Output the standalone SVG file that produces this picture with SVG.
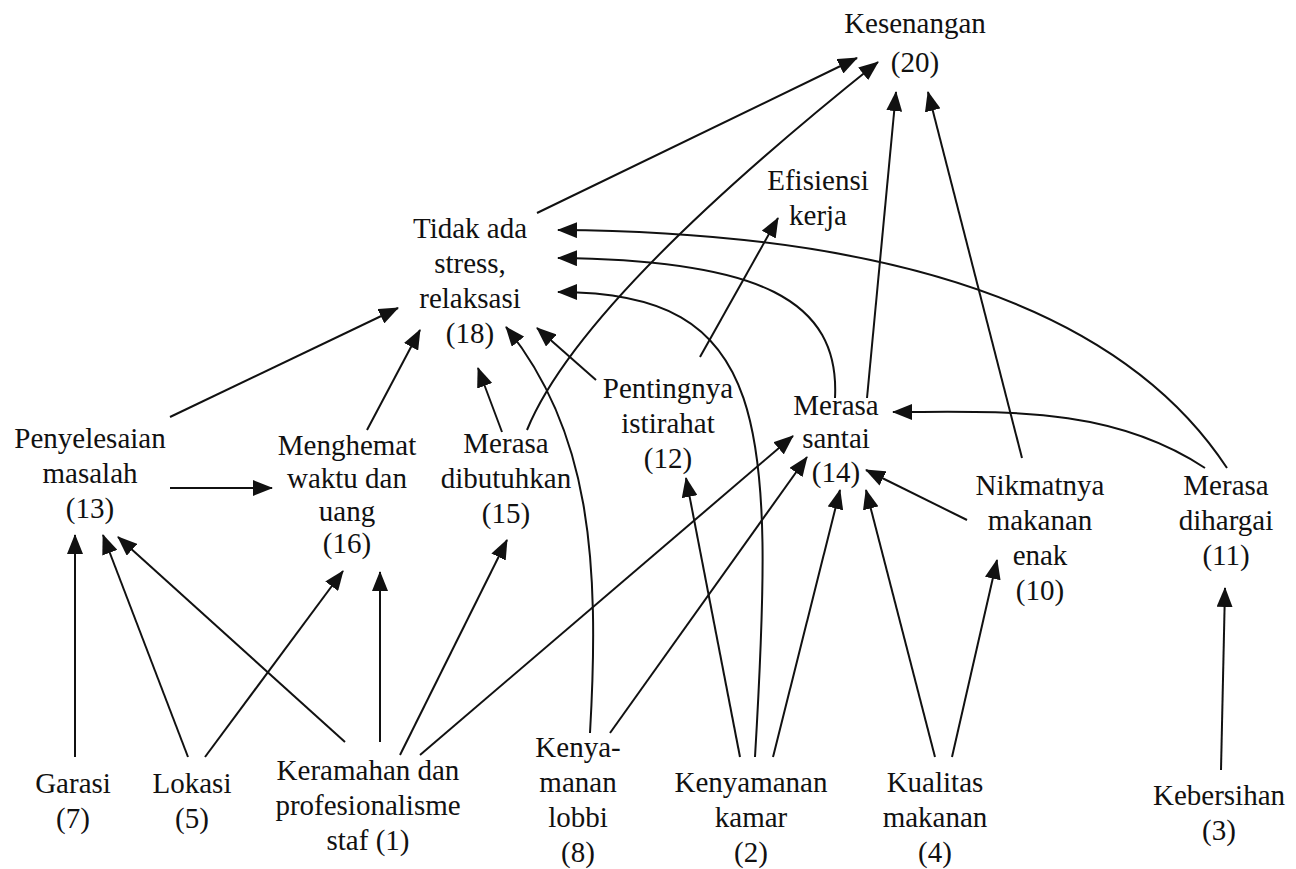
<svg xmlns="http://www.w3.org/2000/svg" width="1296" height="869" viewBox="0 0 1296 869">
<style>
.t text{font-family:'Liberation Serif','Times New Roman',Times,'DejaVu Serif',serif;font-size:29px;fill:#111;text-anchor:middle}
.e{fill:none;stroke:#111;stroke-width:2;marker-end:url(#ah)}
</style>
<defs>
<marker id="ah" markerUnits="userSpaceOnUse" markerWidth="20" markerHeight="16" viewBox="0 0 20 16" refX="19" refY="8" orient="auto">
<path d="M0,0 L20,8 L0,16 z" fill="#111"/>
</marker>
</defs>
<rect width="1296" height="869" fill="#fff"/>
<g id="connectors">
<path class="e" d="M537,213 L857,58"/>
<path class="e" d="M527,430 Q580,300 878,62"/>
<path class="e" d="M867,398 L896,92"/>
<path class="e" d="M1022,458 L928,92"/>
<path class="e" d="M700,357 L778,218"/>
<path class="e" d="M596,380 L537,328"/>
<path class="e" d="M502,432 L478,368"/>
<path class="e" d="M367,430 L420,330"/>
<path class="e" d="M170,417 L398,308"/>
<path class="e" d="M170,488 L272,488"/>
<path class="e" d="M590,733 C600,560 590,430 506,327"/>
<path class="e" d="M755,757 C775,420 770,292 558,292"/>
<path class="e" d="M835,398 C840,300 760,260 558,258"/>
<path class="e" d="M1227,468 C1110,290 850,232 558,230"/>
<path class="e" d="M1205,468 C1110,405 1000,412 893,412"/>
<path class="e" d="M967,520 L866,470"/>
<path class="e" d="M420,755 L793,436"/>
<path class="e" d="M610,733 L807,457"/>
<path class="e" d="M773,757 L840,490"/>
<path class="e" d="M935,757 L866,490"/>
<path class="e" d="M952,757 L997,560"/>
<path class="e" d="M1221,770 L1225,588"/>
<path class="e" d="M740,757 L686,478"/>
<path class="e" d="M75,757 L75,535"/>
<path class="e" d="M188,757 L103,535"/>
<path class="e" d="M345,742 L118,537"/>
<path class="e" d="M205,757 L343,571"/>
<path class="e" d="M380,742 L380,572"/>
<path class="e" d="M400,755 L507,540"/>
</g>
<g class="t" font-family="'Liberation Serif', serif">
<g id="n20"><text x="915" y="33">Kesenangan</text><text x="915" y="72">(20)</text></g>
<g id="efisiensi"><text x="818" y="190">Efisiensi</text><text x="818" y="225">kerja</text></g>
<g id="n18"><text x="470" y="238">Tidak ada</text><text x="470" y="273">stress,</text><text x="470" y="308">relaksasi</text><text x="470" y="343">(18)</text></g>
<g id="n13"><text x="90" y="448">Penyelesaian</text><text x="90" y="483">masalah</text><text x="90" y="518">(13)</text></g>
<g id="n16"><text x="347" y="455">Menghemat</text><text x="347" y="488">waktu dan</text><text x="347" y="521">uang</text><text x="347" y="553">(16)</text></g>
<g id="n15"><text x="506" y="453">Merasa</text><text x="506" y="488">dibutuhkan</text><text x="506" y="523">(15)</text></g>
<g id="n12"><text x="668" y="398">Pentingnya</text><text x="668" y="433">istirahat</text><text x="668" y="468">(12)</text></g>
<g id="n14"><text x="836" y="415">Merasa</text><text x="836" y="448">santai</text><text x="836" y="482">(14)</text></g>
<g id="n10"><text x="1040" y="495">Nikmatnya</text><text x="1040" y="530">makanan</text><text x="1040" y="565">enak</text><text x="1040" y="600">(10)</text></g>
<g id="n11"><text x="1226" y="495">Merasa</text><text x="1226" y="530">dihargai</text><text x="1226" y="565">(11)</text></g>
<g id="n7"><text x="73" y="793">Garasi</text><text x="73" y="828">(7)</text></g>
<g id="n5"><text x="192" y="793">Lokasi</text><text x="192" y="828">(5)</text></g>
<g id="n1"><text x="368" y="780">Keramahan dan</text><text x="368" y="815">profesionalisme</text><text x="368" y="850">staf (1)</text></g>
<g id="n8"><text x="578" y="757">Kenya-</text><text x="578" y="792">manan</text><text x="578" y="827">lobbi</text><text x="578" y="862">(8)</text></g>
<g id="n2"><text x="751" y="792">Kenyamanan</text><text x="751" y="827">kamar</text><text x="751" y="862">(2)</text></g>
<g id="n4"><text x="935" y="792">Kualitas</text><text x="935" y="827">makanan</text><text x="935" y="862">(4)</text></g>
<g id="n3"><text x="1219" y="805">Kebersihan</text><text x="1219" y="840">(3)</text></g>
</g>
</svg>
